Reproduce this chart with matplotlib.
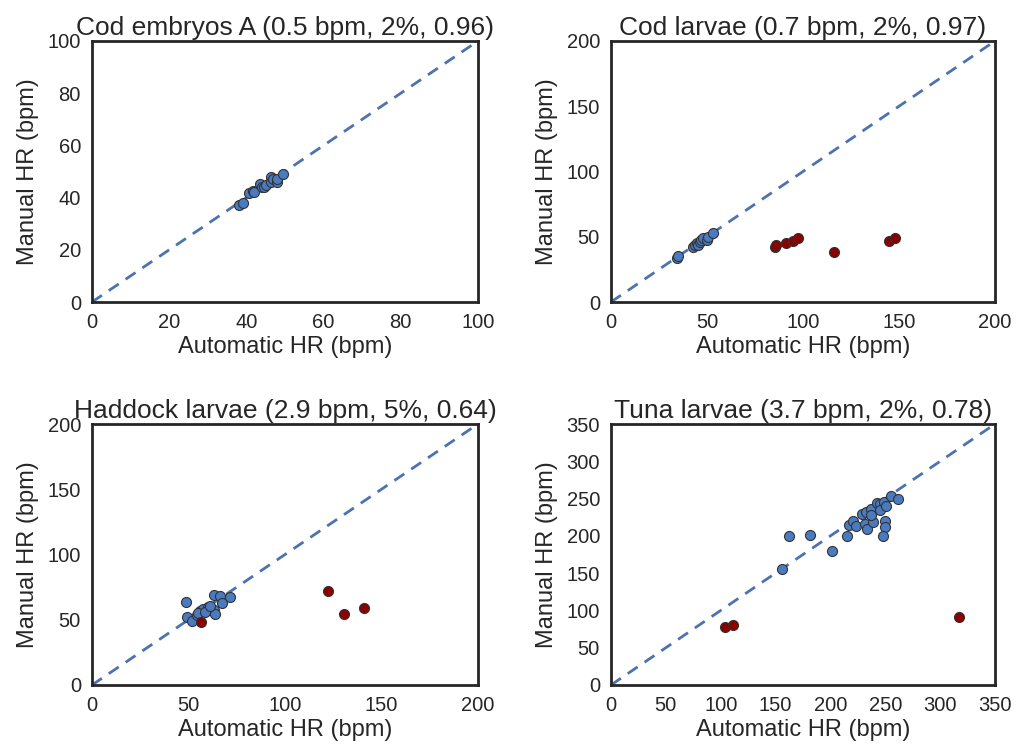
import matplotlib
matplotlib.use("Agg")
import matplotlib.pyplot as plt
import numpy as np

plt.rcParams['font.family'] = ['Liberation Sans', 'DejaVu Sans']

# Panel 1: Cod embryos A
cod_emb_auto = [38, 39, 40.8, 41.6, 42, 43.4, 44, 44.5, 45, 46.4, 46.5, 47, 47.8, 48, 49.4]
cod_emb_man = [37, 38, 41.9, 42.5, 42, 45.1, 44.2, 44, 45, 48, 45.9, 47, 46.1, 47, 49]

# Panel 2: Cod larvae
cod_lar_auto = [34.2, 35, 42.9, 44, 44.6, 45.5, 46.4, 47, 48, 49.8, 50.5, 53.3]
cod_lar_man = [33.9, 35.2, 42.4, 43.5, 45, 44, 46, 47.5, 48.8, 47.5, 50, 53.1]
cod_lar_out_auto = [85.4, 85.8, 91.1, 94.6, 97.2, 116.1, 145, 147.8]
cod_lar_out_man = [42.4, 43.5, 45, 47, 48.8, 38, 47, 48.8]

# Panel 3: Haddock larvae
had_auto = [48.5, 49, 52, 54.2, 56, 57.7, 60.3, 63.4, 63.7, 63.4, 66.3, 67.4, 71.5, 55, 58.5, 61]
had_man = [63.6, 52.4, 49, 53.6, 57, 58, 59.5, 57.5, 54.4, 68.7, 68.2, 62.6, 67.7, 55, 56, 60.5]
had_out_auto = [56.5, 122.4, 130.6, 141.1]
had_out_man = [48.5, 72, 54.4, 58.8]

# Panel 4: Tuna larvae
tuna_auto = [156.2, 162, 181.4, 201.7, 215.4, 217, 220.9, 223, 228.5, 232.4, 231.5, 233.6,
             236.6, 238.8, 242.4, 244.9, 245.5, 248.9, 249.5, 249.5, 248.2, 250.7, 255.2,
             261.9, 237.2]
tuna_man = [155.6, 200.2, 200.7, 179.3, 199.8, 214.5, 220.3, 213.2, 229.3, 231.5, 215.7, 209.2,
            236.5, 218.6, 244.6, 243.2, 234.2, 245.5, 220.3, 212.2, 200.2, 239.4, 253.3,
            248.9, 227.9]
tuna_out_auto = [103.9, 111.5, 317]
tuna_out_man = [77.8, 80.9, 91.2]

titles = ["Cod embryos A (0.5 bpm, 2%, 0.96)", "Cod larvae (0.7 bpm, 2%, 0.97)",
          "Haddock larvae (2.9 bpm, 5%, 0.64)", "Tuna larvae (3.7 bpm, 2%, 0.78)"]
limits = [100, 200, 200, 350]
ticks = [np.arange(0, 101, 20), np.arange(0, 201, 50), np.arange(0, 201, 50), np.arange(0, 351, 50)]
panels = [
    (cod_emb_auto, cod_emb_man, [], []),
    (cod_lar_auto, cod_lar_man, cod_lar_out_auto, cod_lar_out_man),
    (had_auto, had_man, had_out_auto, had_out_man),
    (tuna_auto, tuna_man, tuna_out_auto, tuna_out_man),
]

W, H = 1018, 754
fig = plt.figure(figsize=(W / 100, H / 100), dpi=100)
boxes = [(92, 41, 478, 302), (611, 41, 995, 302), (92, 424, 478, 685), (611, 424, 995, 685)]

text_color = '#262626'
blue = '#4C72B0'
for i, (box, (ax_, ay_, ox, oy)) in enumerate(zip(boxes, panels)):
    l, t, r, b = box
    ax = fig.add_axes([l / W, 1 - b / H, (r - l) / W, (b - t) / H])
    lim = limits[i]
    ax.plot([0, lim], [0, lim], '--', color=blue, lw=2, dashes=(4.3, 3), zorder=1)
    ax.scatter(ax_, ay_, s=52, color='#4A7BC0', edgecolor='#333333', linewidth=0.8, zorder=3)
    if ox:
        ax.scatter(ox, oy, s=52, color='#8B0000', edgecolor='#333333', linewidth=0.8, zorder=3)
    ax.set_xlim(0, lim)
    ax.set_ylim(0, lim)
    ax.set_xticks(ticks[i])
    ax.set_yticks(ticks[i])
    ax.tick_params(length=0, labelsize=14.5, colors=text_color, pad=8)
    for sp in ax.spines.values():
        sp.set_linewidth(2)
        sp.set_color('#262626')
    ax.set_xlabel("Automatic HR (bpm)", fontsize=17, color=text_color, labelpad=3)
    ax.set_ylabel("Manual HR (bpm)", fontsize=17, color=text_color, labelpad=6)
    ax.set_title(titles[i], fontsize=19, color=text_color, pad=4)

fig.savefig("out.png", dpi=100)
